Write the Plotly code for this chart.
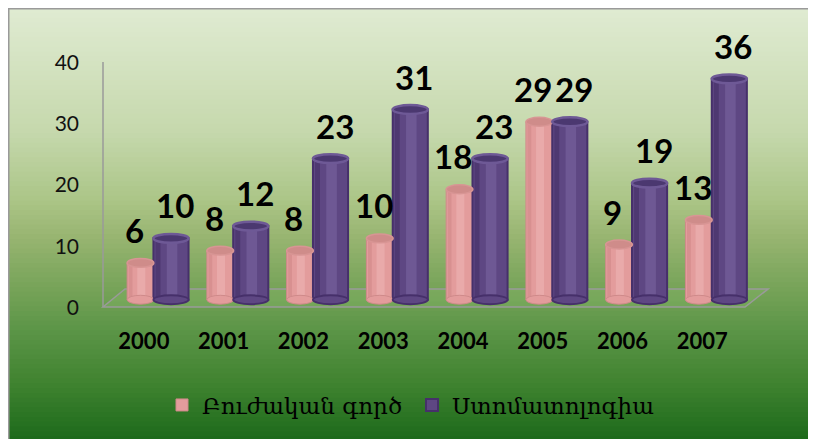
import plotly.graph_objects as go

# ---------------- data ----------------
years = ["2000", "2001", "2002", "2003", "2004", "2005", "2006", "2007"]
treatment = [6, 8, 8, 10, 18, 29, 9, 13]          # Բուժական գործ
stomatology = [10, 12, 23, 31, 23, 29, 19, 36]    # Ստոմատոլոգիա
series_names = ["Բուժական գործ", "Ստոմատոլոգիա"]
y_ticks = [0, 10, 20, 30, 40]

# ---------------- geometry (screen px; page body has an 8px margin) ----------------
OX, OY = 8, 8
W, H = 808, 431
ML, MR, MT, MB = 92, 46, 34, 127
XR = [-0.55, 7.85]
YR = [-2, 42]
PW, PH = W - ML - MR, H - MT - MB


def px2paperx(px):
    return (px - OX - ML) / PW


def py2papery(py):
    return (H - MB - (py - OY)) / PH


def px2x(px):
    return XR[0] + px2paperx(px) * (XR[1] - XR[0])


def py2y(py):
    return YR[0] + py2papery(py) * (YR[1] - YR[0])


xs = list(range(len(years)))

PINK, PINK_LINE, PINK_TOP = "#e39c9c", "#cf8a8a", "#cf8c8a"
PURP, PURP_LINE, PURP_TOP, PURP_RING = "#5e4783", "#46306a", "#4b3870", "#6e5996"

series = [
    dict(vals=treatment, name=series_names[0], off=-0.21, w=0.335, color=PINK,
         line=PINK_LINE, top=PINK_TOP, ring="#d89594", lw=1, loff=-0.12,
         hi="rgba(255,225,225,0.22)", sh="rgba(150,70,70,0.14)"),
    dict(vals=stomatology, name=series_names[1], off=0.12, w=0.44, color=PURP,
         line=PURP_LINE, top=PURP_TOP, ring=PURP_RING, lw=2, loff=0.39,
         hi="rgba(170,150,210,0.22)", sh="rgba(30,10,60,0.25)"),
]

fig = go.Figure()
for s in series:
    fig.add_trace(go.Bar(
        x=xs, y=s["vals"], name=s["name"], offset=s["off"], width=s["w"],
        marker=dict(color=s["color"], line=dict(color=s["line"], width=s["lw"])),
        cliponaxis=False, hoverinfo="y",
    ))
    # cylinder shading: dark left edge strip, light centre strip
    fig.add_trace(go.Bar(
        x=xs, y=s["vals"], offset=s["off"] + s["w"] * 0.06, width=s["w"] * 0.14,
        marker=dict(color=s["sh"], line=dict(width=0)), showlegend=False,
        hoverinfo="skip", cliponaxis=False,
    ))
    fig.add_trace(go.Bar(
        x=xs, y=s["vals"], offset=s["off"] + s["w"] * 0.38, width=s["w"] * 0.3,
        marker=dict(color=s["hi"], line=dict(width=0)), showlegend=False,
        hoverinfo="skip", cliponaxis=False,
    ))

shapes = []

# gradient background (paper)
stops = [(8, (224, 235, 210)), (133, (197, 216, 172)), (200, (171, 197, 135)),
         (233, (154, 182, 115)), (283, (122, 165, 91)), (333, (90, 148, 70)),
         (383, (64, 131, 48)), (439, (29, 106, 27))]


def col_at(py):
    if py <= stops[0][0]:
        return stops[0][1]
    for (a, ca), (b, cb) in zip(stops, stops[1:]):
        if a <= py <= b:
            t = (py - a) / (b - a)
            return tuple(round(ca[i] + (cb[i] - ca[i]) * t) for i in range(3))
    return stops[-1][1]


top_px, bot_px = 8, 441
n = 90
step = (bot_px - top_px) / n
for i in range(n):
    y0 = top_px + i * step
    y1 = y0 + step + 0.8
    c = col_at(y0 + step / 2)
    shapes.append(dict(type="rect", xref="paper", yref="paper", layer="below",
                       x0=px2paperx(8), x1=px2paperx(830),
                       y0=py2papery(y1), y1=py2papery(y0),
                       fillcolor="rgb(%d,%d,%d)" % c, line=dict(width=0)))
# outer border
shapes.append(dict(type="rect", xref="paper", yref="paper", layer="below",
                   x0=px2paperx(8.5), x1=px2paperx(830), y0=py2papery(445), y1=py2papery(8.5),
                   fillcolor="rgba(0,0,0,0)", line=dict(color="#9a9a9a", width=2)))

# floor + wall edge (axis decoration)
fy0, fy1 = py2y(307), py2y(289)
fx0, fx1 = px2x(103), px2x(745)
bx0, bx1 = px2x(125), px2x(768)
shapes.append(dict(type="path", xref="x", yref="y", layer="below",
                   path=f"M{fx0},{fy0} L{fx1},{fy0} L{bx1},{fy1} L{bx0},{fy1} Z",
                   fillcolor="rgba(140,190,110,0.25)", line=dict(color="#9a9a9a", width=1.5)))
shapes.append(dict(type="line", xref="x", yref="y", layer="below",
                   x0=fx0, x1=fx0, y0=fy0, y1=py2y(62), line=dict(color="#9a9a9a", width=1.5)))

# cylinder caps
EH = 0.72
for s in series:
    for x, v in zip(xs, s["vals"]):
        x0, x1 = x + s["off"], x + s["off"] + s["w"]
        shapes.append(dict(type="circle", xref="x", yref="y", layer="above",
                           x0=x0, x1=x1, y0=-EH, y1=EH, fillcolor=s["color"],
                           line=dict(color=s["line"], width=s["lw"])))
        shapes.append(dict(type="circle", xref="x", yref="y", layer="above",
                           x0=x0, x1=x1, y0=v - EH, y1=v + EH, fillcolor=s["top"],
                           line=dict(color=s["ring"], width=s["lw"] + 0.5)))

annotations = []
for s in series:
    for x, v in zip(xs, s["vals"]):
        annotations.append(dict(x=x + s["loff"], y=v, xref="x", yref="y", text=str(v),
                                showarrow=False, yanchor="bottom", yshift=11,
                                font=dict(family="Lato", size=33, color="#000000",
                                          weight="bold")))

fig.update_layout(
    width=W, height=H, margin=dict(l=ML, r=MR, t=MT, b=MB, pad=0),
    paper_bgcolor="rgb(120,165,90)", plot_bgcolor="rgba(0,0,0,0)",
    barmode="overlay", shapes=shapes, annotations=annotations,
    showlegend=True,
    legend=dict(orientation="h", x=px2paperx(162), xanchor="left",
                y=py2papery(405), yanchor="middle", bgcolor="rgba(0,0,0,0)",
                font=dict(family="DejaVu Serif", size=23, color="#000000"),
                itemwidth=30, entrywidth=205, entrywidthmode="pixels"),
    xaxis=dict(range=XR, tickvals=xs, ticktext=years, showgrid=False, zeroline=False,
               showline=False, ticks="", ticklabelstandoff=14,
               tickfont=dict(family="Lato", size=22, color="#000000", weight="bold")),
    yaxis=dict(range=YR, tickvals=y_ticks, showgrid=False, zeroline=False,
               showline=False, ticks="", ticklabelstandoff=20, ticklabelshift=8,
               tickfont=dict(family="Lato", size=21, color="#111111")),
)

fig.write_html("out.html")
